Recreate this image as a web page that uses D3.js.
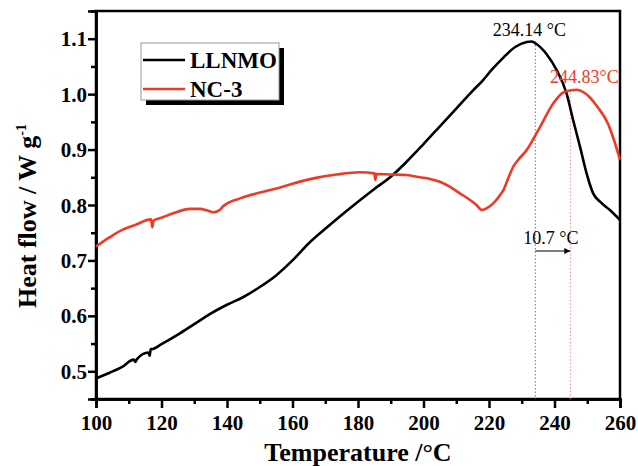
<!DOCTYPE html>
<html>
<head>
<meta charset="utf-8">
<script src="https://cdn.jsdelivr.net/npm/d3@7/dist/d3.min.js"></script>
<style>
  html, body { margin: 0; padding: 0; background: #fff; }
  svg { display: block; }
  text { font-family: "Liberation Serif", "Times New Roman", serif; }
  .tick text { font-family: "Liberation Serif", "Times New Roman", serif; font-weight: bold; font-size: 21px; }
</style>
</head>
<body>
<svg id="chart" width="638" height="466"></svg>
<script>
// DSC heat-flow traces (Temperature in °C, heat flow in W g^-1)
const llnmoTemp = [100, 104, 108, 111.5, 112, 112.5, 116, 116.4, 116.7, 117, 120, 125, 130, 135, 140, 145, 150, 155, 160, 165, 170, 175, 180, 185, 190, 195, 200, 205, 210, 215, 218, 221, 224.4, 228, 231.5, 233, 234.6, 237.6, 240.7, 243.7, 245.7, 247.8, 249.8, 251.8, 253.9, 256.9, 260];
const llnmoFlow = [0.487, 0.497, 0.508, 0.521, 0.517, 0.522, 0.534, 0.528, 0.540, 0.540, 0.549, 0.566, 0.585, 0.604, 0.620, 0.634, 0.652, 0.673, 0.700, 0.731, 0.757, 0.782, 0.806, 0.829, 0.851, 0.879, 0.910, 0.942, 0.974, 1.006, 1.024, 1.045, 1.066, 1.085, 1.094, 1.095, 1.090, 1.072, 1.043, 1.001, 0.953, 0.905, 0.857, 0.821, 0.806, 0.791, 0.773];

const nc3Temp = [100, 104, 108, 112, 116.8, 117.2, 117.6, 120, 123.6, 128.7, 131.8, 134, 135.8, 137.5, 138.9, 144, 151.1, 156, 159.2, 166.4, 173.5, 180.6, 185, 185.3, 185.6, 190, 194.9, 198.9, 202, 205, 208, 211.1, 214, 216.2, 217.8, 219.5, 221.3, 223, 224.4, 226, 227.4, 229, 231.5, 235.6, 239.6, 242.7, 245, 246.8, 249, 250.8, 253, 256.3, 258, 260];
const nc3Flow = [0.725, 0.741, 0.755, 0.764, 0.774, 0.760, 0.772, 0.777, 0.785, 0.793, 0.793, 0.790, 0.787, 0.790, 0.798, 0.812, 0.824, 0.831, 0.837, 0.848, 0.855, 0.859, 0.857, 0.845, 0.856, 0.855, 0.854, 0.850, 0.847, 0.842, 0.833, 0.821, 0.810, 0.800, 0.791, 0.795, 0.803, 0.815, 0.827, 0.850, 0.869, 0.882, 0.899, 0.941, 0.983, 1.003, 1.007, 1.008, 1.003, 0.994, 0.978, 0.947, 0.920, 0.882];

const seriesNames = ["LLNMO", "NC-3"];
const seriesColors = ["#000000", "#ee3a24"];

const xTicks = [100, 120, 140, 160, 180, 200, 220, 240, 260];
const xMinorTicks = [110, 130, 150, 170, 190, 210, 230, 250];
const yTicks = [0.5, 0.6, 0.7, 0.8, 0.9, 1.0, 1.1];
const yMinorTicks = [0.45, 0.55, 0.65, 0.75, 0.85, 0.95, 1.05];

// peak temperatures and their shift
const peakLLNMO = 234.14;
const peakNC3 = 244.83;
const peakShift = 10.7;

const svg = d3.select("#chart");
const plotLeft = 96, plotRight = 620, plotTop = 11, plotBottom = 399;

const x = d3.scaleLinear().domain([100, 260]).range([plotLeft, plotRight]);
const y = d3.scaleLinear().domain([0.45, 1.15]).range([plotBottom, plotTop]);

// frame
svg.append("rect")
  .attr("x", plotLeft).attr("y", plotTop)
  .attr("width", plotRight - plotLeft).attr("height", plotBottom - plotTop)
  .attr("fill", "none").attr("stroke", "#000").attr("stroke-width", 2.5);

// x axis
const gx = svg.append("g").attr("transform", `translate(0,${plotBottom})`);
gx.call(d3.axisBottom(x).tickValues(xTicks).tickSize(9).tickPadding(4).tickFormat(d3.format("d")));
gx.append("g").call(d3.axisBottom(x).tickValues(xMinorTicks).tickSize(5).tickFormat(""));
gx.selectAll(".domain").attr("stroke-width", 2.5);
gx.selectAll(".tick line").attr("stroke-width", 2.5);
gx.selectAll(".tick text")
  .attr("y", 31).attr("dy", 0).attr("fill", "#000");

// y axis
const gy = svg.append("g").attr("transform", `translate(${plotLeft},0)`);
gy.call(d3.axisLeft(y).tickValues(yTicks).tickSize(8).tickPadding(1).tickFormat(d3.format(".1f")));
gy.append("g").call(d3.axisLeft(y).tickValues(yMinorTicks).tickSize(5).tickFormat(""));
gy.selectAll(".domain").attr("stroke-width", 2.5);
gy.selectAll(".tick line").attr("stroke-width", 2.5);
gy.selectAll(".tick text")
  .attr("dy", "0.34em").attr("fill", "#000");

// axis titles
svg.append("text")
  .attr("x", 358).attr("y", 461)
  .attr("text-anchor", "middle")
  .attr("font-size", 26).attr("font-weight", "bold")
  .text("Temperature /°C");

const yTitle = svg.append("text")
  .attr("transform", "translate(36,216) rotate(-90)")
  .attr("text-anchor", "middle")
  .attr("font-size", 26).attr("font-weight", "bold");
yTitle.append("tspan").text("Heat flow / W g");
yTitle.append("tspan").attr("dy", -10).attr("font-size", 14).text("-1");

// peak markers
const peakLLNMOFlow = d3.max(llnmoFlow);
const peakNC3Flow = d3.max(nc3Flow);
svg.append("line")
  .attr("x1", x(peakLLNMO)).attr("x2", x(peakLLNMO))
  .attr("y1", y(peakLLNMOFlow)).attr("y2", plotBottom)
  .attr("stroke", "#777").attr("stroke-width", 1).attr("stroke-dasharray", "1.5,2");
svg.append("line")
  .attr("x1", x(peakNC3)).attr("x2", x(peakNC3))
  .attr("y1", y(peakNC3Flow)).attr("y2", plotBottom)
  .attr("stroke", "#f08a80").attr("stroke-width", 1).attr("stroke-dasharray", "1.5,2");

// traces
const line = d3.line().x(d => x(d[0])).y(d => y(d[1])).curve(d3.curveMonotoneX);
const traces = [
  d3.zip(llnmoTemp, llnmoFlow),
  d3.zip(nc3Temp, nc3Flow)
];
traces.forEach((pts, i) => {
  svg.append("path")
    .datum(pts)
    .attr("d", line)
    .attr("fill", "none")
    .attr("stroke", seriesColors[i])
    .attr("stroke-width", 2.6)
    .attr("stroke-linejoin", "round");
});

// peak labels
svg.append("text")
  .attr("x", x(peakLLNMO) - 6).attr("y", 36)
  .attr("text-anchor", "middle")
  .attr("font-size", 18).attr("fill", "#000")
  .text(peakLLNMO.toFixed(2) + " °C");
svg.append("text")
  .attr("x", x(peakNC3) + 14).attr("y", 83)
  .attr("text-anchor", "middle")
  .attr("font-size", 18).attr("fill", seriesColors[1])
  .text(peakNC3.toFixed(2) + "°C");

// shift arrow
svg.append("defs").append("marker")
  .attr("id", "arrowHead")
  .attr("viewBox", "0 0 10 10").attr("refX", 10).attr("refY", 5)
  .attr("markerWidth", 9).attr("markerHeight", 6).attr("markerUnits", "userSpaceOnUse")
  .attr("orient", "auto")
  .append("path").attr("d", "M0,0 L10,5 L0,10 Z").attr("fill", "#000");
svg.append("line")
  .attr("x1", x(peakLLNMO)).attr("x2", x(peakNC3))
  .attr("y1", 251).attr("y2", 251)
  .attr("stroke", "#000").attr("stroke-width", 1)
  .attr("marker-end", "url(#arrowHead)");
svg.append("text")
  .attr("x", (x(peakLLNMO) + x(peakNC3)) / 2 - 2).attr("y", 244)
  .attr("text-anchor", "middle")
  .attr("font-size", 18).attr("fill", "#000")
  .text(peakShift.toFixed(1) + " °C");

// legend
const lg = svg.append("g");
lg.append("rect").attr("x", 146).attr("y", 48).attr("width", 138).attr("height", 57).attr("fill", "#000");
lg.append("rect").attr("x", 141).attr("y", 43).attr("width", 138).attr("height", 57)
  .attr("fill", "#fff").attr("stroke", "#999").attr("stroke-width", 1);
seriesNames.forEach((name, i) => {
  const yy = 60 + i * 29;
  lg.append("line")
    .attr("x1", 143).attr("x2", 185).attr("y1", yy).attr("y2", yy)
    .attr("stroke", seriesColors[i]).attr("stroke-width", 2.6);
  lg.append("text")
    .attr("x", 190).attr("y", yy + 8)
    .attr("font-size", 23).attr("font-weight", "bold").attr("fill", "#000")
    .text(name);
});
</script>
</body>
</html>
